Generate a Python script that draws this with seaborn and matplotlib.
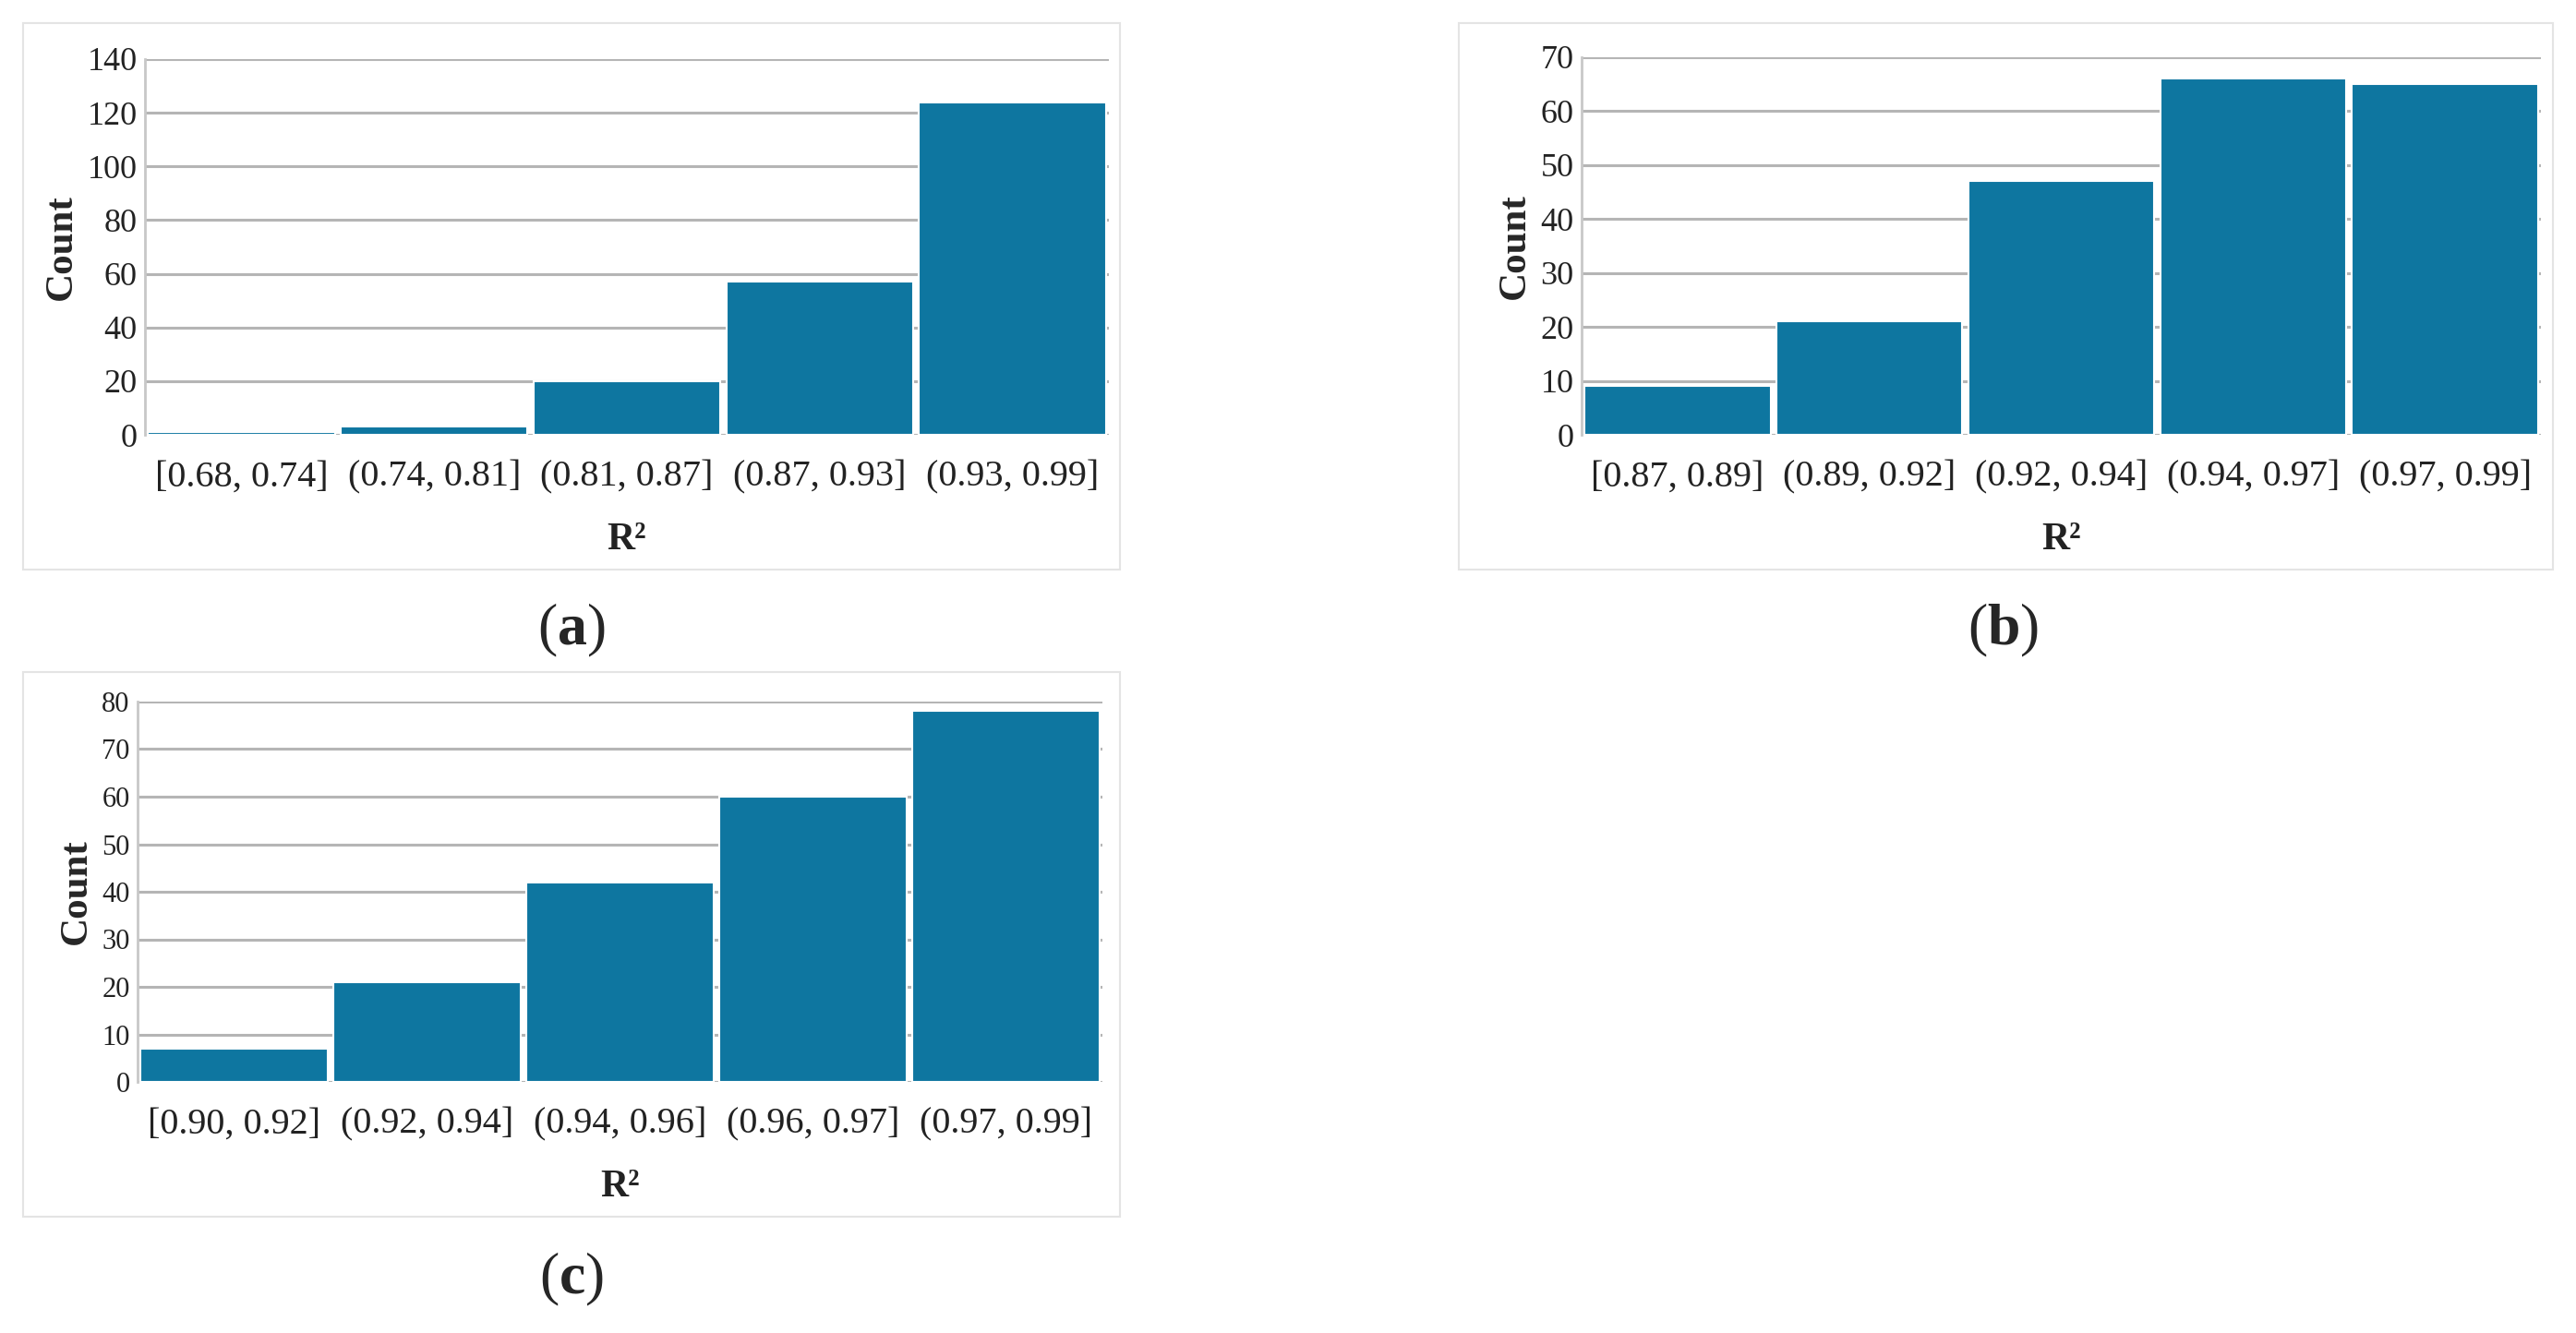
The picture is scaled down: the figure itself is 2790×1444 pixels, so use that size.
import pandas as pd
import seaborn as sns
import matplotlib.pyplot as plt
from matplotlib.patches import Rectangle

# 各子图的区间标签和计数
bins_a = ['[0.68, 0.74]', '(0.74, 0.81]', '(0.81, 0.87]', '(0.87, 0.93]', '(0.93, 0.99]']
counts_a = [1, 3, 20, 57, 124]

bins_b = ['[0.87, 0.89]', '(0.89, 0.92]', '(0.92, 0.94]', '(0.94, 0.97]', '(0.97, 0.99]']
counts_b = [9, 21, 47, 66, 65]

bins_c = ['[0.90, 0.92]', '(0.92, 0.94]', '(0.94, 0.96]', '(0.96, 0.97]', '(0.97, 0.99]']
counts_c = [7, 21, 42, 60, 78]

panel_letters = ['a', 'b', 'c']

sns.set_theme(style='white')
plt.rcParams['font.family'] = ['Liberation Serif', 'DejaVu Serif']
plt.rcParams['mathtext.fontset'] = 'custom'
plt.rcParams['mathtext.rm'] = 'Liberation Serif'
plt.rcParams['mathtext.bf'] = 'Liberation Serif:bold'

W, H = 2790, 1444
fig = plt.figure(figsize=(W / 100, H / 100), dpi=100)
bar_color = '#0e76a0'


def px_axes(x0, y0, x1, y1):
    return fig.add_axes([x0 / W, 1 - y1 / H, (x1 - x0) / W, (y1 - y0) / H])


def frame(x0, y0, x1, y1):
    fig.patches.append(Rectangle((x0 / W, 1 - y1 / H), (x1 - x0) / W, (y1 - y0) / H,
                                 transform=fig.transFigure, fill=False,
                                 edgecolor='#e4e4e4', linewidth=1.5))


def draw(ax, bins, counts, ymax, step, ytick_size):
    df = pd.DataFrame({'R2': bins, 'Count': counts})
    sns.barplot(data=df, x='R2', y='Count', ax=ax, color=bar_color, width=0.97,
                edgecolor='white', linewidth=1.5, saturation=1, zorder=3)
    ax.set_ylim(0, ymax)
    ax.set_xlim(-0.5, 4.5)
    ax.set_yticks(range(0, ymax + 1, step))
    ax.yaxis.grid(True, color='#b5b5b5', linewidth=2.2)
    ax.set_axisbelow(True)
    for s in ['top', 'right', 'bottom']:
        ax.spines[s].set_visible(False)
    ax.spines['left'].set_color('#c8c8c8')
    ax.spines['left'].set_linewidth(2)
    ax.tick_params(axis='both', length=0, colors='#222222')
    ax.tick_params(axis='y', labelsize=ytick_size, pad=6)
    ax.tick_params(axis='x', labelsize=29, pad=20)
    ax.set_xlabel('R²', fontsize=30, fontweight='bold', labelpad=22, color='#222222')
    ax.set_ylabel('Count', fontsize=31, fontweight='bold', labelpad=6)


frame(25, 25, 1213, 617)
ax_a = px_axes(157, 64, 1201, 471)
draw(ax_a, bins_a, counts_a, 140, 20, 26)

frame(1580, 25, 2765, 617)
ax_b = px_axes(1713, 62, 2752, 471)
draw(ax_b, bins_b, counts_b, 70, 10, 26)

frame(25, 728, 1213, 1318)
ax_c = px_axes(149, 760, 1194, 1172)
draw(ax_c, bins_c, counts_c, 80, 10, 22)

for letter, (x, y) in zip(panel_letters, [(619, 683), (2170, 683), (619, 1386)]):
    fig.text(x / W, 1 - y / H, '(' + r'$\mathbf{' + letter + '}$' + ')',
             ha='center', va='center', fontsize=46)

fig.savefig('out.png', dpi=100)
